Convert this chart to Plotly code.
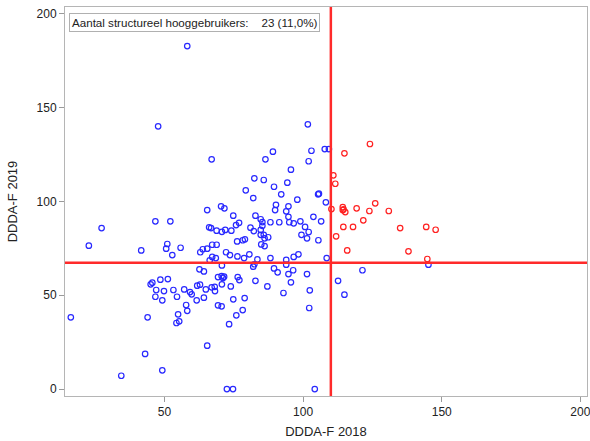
import plotly.graph_objects as go

# Blue points (not structurally high users)
blue_x = [58.2, 47.7, 67.0,
    16.2, 22.7, 27.3, 34.4, 41.6, 43.0, 43.9, 46.7, 52.1, 49.2, 45.0, 45.6, 48.5, 51.2, 47.0, 46.7,
    49.8, 49.2, 53.2, 54.5, 50.6, 51.0, 52.8, 55.8, 57.1, 57.8, 58.2, 54.9, 54.3, 55.3, 59.2, 59.8,
    61.6, 61.8, 62.8, 64.2, 64.9, 62.6, 64.2, 62.9, 63.8, 65.4, 66.3, 67.2, 68.5, 66.1, 66.8, 68.8,
    67.2, 68.8, 65.4, 70.4, 71.6, 70.7, 71.9, 74.1, 74.8, 75.8, 76.9, 72.2, 73.6, 76.2, 76.3, 70.7,
    69.3, 70.6, 71.1, 71.5, 70.7, 68.1, 68.2, 67.0, 69.3, 70.6, 73.9, 76.4, 77.0, 74.8, 75.9, 73.3,
    65.4, 72.5, 74.7,
    101.7, 107.8, 109.3, 89.1, 103.0, 86.4, 102.0, 95.6, 82.4, 85.8, 94.3, 89.5, 79.3, 92.1, 105.4,
    105.7, 82.0, 97.9, 108.2, 90.2, 94.7, 89.9, 93.9, 82.8, 94.7, 103.7, 84.7, 85.3, 88.2, 91.4,
    95.0, 96.6, 99.0, 106.5, 81.0, 82.2, 84.7, 85.3, 100.7, 102.0, 99.4, 101.4, 105.5, 85.8, 87.4,
    86.1, 84.7, 78.2, 79.0, 84.9, 86.1, 78.7, 80.6, 83.5, 88.2, 93.9, 96.6, 98.3, 108.5, 82.4, 82.0,
    93.9, 89.5, 90.8, 96.4, 94.7, 101.4, 121.4, 145.2, 82.8, 87.1, 95.6, 112.6, 92.9, 102.4, 114.9,
    78.9,
    78.2, 102.2, 104.2]
blue_y = [182.8, 140.0, 122.4,
    38.2, 76.4, 85.8, 7.1, 73.9, 18.7, 38.2, 89.4, 89.4, 10.0, 55.8, 56.7, 58.3, 58.6, 52.8, 49.2,
    52.2, 47.3, 52.8, 49.2, 74.8, 77.3, 71.4, 75.3, 53.1, 44.8, 41.7, 39.8, 35.2, 36.1, 51.7, 50.5,
    47.3, 55.1, 55.6, 48.7, 53.1, 63.8, 62.7, 72.9, 74.5, 74.8, 68.6, 70.4, 69.8, 86.2, 85.8, 84.4,
    76.9, 76.9, 95.4, 97.4, 96.3, 83.8, 84.8, 84.4, 92.4, 87.4, 88.6, 72.9, 71.4, 78.7, 70.7, 65.9,
    59.7, 60.2, 59.2, 59.9, 55.8, 54.5, 52.2, 54.2, 44.6, 44.1, 54.7, 59.7, 58.1, 47.8, 39.3, 34.6,
    23.1, 0.0, 0.0,
    141.1, 127.9, 127.9, 126.5, 127.0, 122.4, 121.4, 116.9, 112.3, 111.4, 110.0, 107.8, 105.9, 103.8, 103.8,
    104.1, 101.8, 100.9, 99.5, 98.2, 97.4, 95.4, 94.7, 92.4, 91.8, 91.8, 90.5, 89.0, 88.9, 88.9,
    88.9, 88.3, 89.4, 89.4, 86.0, 84.2, 84.8, 87.0, 86.4, 83.7, 82.2, 80.3, 79.3, 82.2, 80.9,
    80.3, 82.2, 79.3, 79.8, 77.1, 76.2, 69.8, 71.8, 69.1, 69.8, 68.8, 70.4, 71.8, 69.8, 66.5, 65.2,
    66.3, 64.3, 62.2, 63.3, 61.3, 61.3, 63.3, 66.3, 57.7, 54.7, 56.9, 57.7, 51.2, 52.6, 50.3,
    48.5,
    42.1, 43.2, 0.0]

# Red points (structurally high users)
red_x = [114.9, 124.1, 110.9, 111.6, 110.2, 114.3, 114.3, 115.2, 119.3, 123.9, 126.0, 130.9,
         121.7, 114.5, 118.0, 135.0, 144.4, 147.8, 111.9, 115.9, 138.0, 144.8, 114.6]
red_y = [125.6, 130.6, 113.9, 109.4, 95.9, 96.9, 95.4, 94.3, 96.3, 94.9, 99.0, 94.9,
         89.9, 86.4, 86.4, 85.8, 86.4, 84.9, 81.4, 73.9, 73.4, 69.3, 95.8]

x_cut = 110.0
y_cut = 67.3
label_text = "Aantal structureel hooggebruikers:\u00a0\u00a0\u00a0 23 (11,0%)"
x_title = "DDDA-F 2018"
y_title = "DDDA-F 2019"

font_family = "Arial, Liberation Sans, sans-serif"

fig = go.Figure()
fig.add_trace(go.Scatter(
    x=blue_x, y=blue_y, mode="markers",
    marker=dict(symbol="circle-open", size=5.5, color="#2828ff", line=dict(width=1.2, color="#2828ff")),
    showlegend=False, hoverinfo="x+y"))
fig.add_trace(go.Scatter(
    x=red_x, y=red_y, mode="markers",
    marker=dict(symbol="circle-open", size=5.5, color="#ff2020", line=dict(width=1.2, color="#ff2020")),
    showlegend=False, hoverinfo="x+y"))

fig.add_shape(type="line", xref="x", yref="paper", x0=x_cut, x1=x_cut, y0=0, y1=1,
              line=dict(color="#ff2a2a", width=2.5), layer="above")
fig.add_shape(type="line", xref="paper", yref="y", x0=0, x1=1, y0=y_cut, y1=y_cut,
              line=dict(color="#ff2a2a", width=2.5), layer="above")

fig.add_annotation(xref="paper", yref="paper", x=0.008, y=0.985, xanchor="left", yanchor="top",
                   text=label_text, showarrow=False, align="left",
                   font=dict(family=font_family, size=11.6, color="#222"),
                   bordercolor="#b0b0b0", borderwidth=1, borderpad=2, bgcolor="white")

axis_common = dict(showgrid=False, zeroline=False, showline=True, linecolor="#b5b5b5", linewidth=1,
                   mirror=True, ticks="outside", ticklen=5, tickcolor="#9a9a9a",
                   ticklabeloverflow="allow", automargin=False,
                   tickfont=dict(family=font_family, size=12, color="#222"))

fig.update_xaxes(range=[14.1, 202.4], tickvals=[50, 100, 150, 200],
                 title=dict(text=x_title, font=dict(family=font_family, size=13, color="#222"), standoff=8),
                 **axis_common)
fig.update_yaxes(range=[-3.7, 203.6], tickvals=[0, 50, 100, 150, 200],
                 title=dict(text=y_title, font=dict(family=font_family, size=13, color="#222"), standoff=16),
                 **axis_common)

fig.update_layout(width=590, height=441, margin=dict(l=65, r=3, t=7, b=45, autoexpand=False),
                  plot_bgcolor="white", paper_bgcolor="white",
                  font=dict(family=font_family))

fig.write_html("out.html", config={"displayModeBar": False},
               post_script="document.body.style.margin='0';document.body.style.overflow='hidden';")
